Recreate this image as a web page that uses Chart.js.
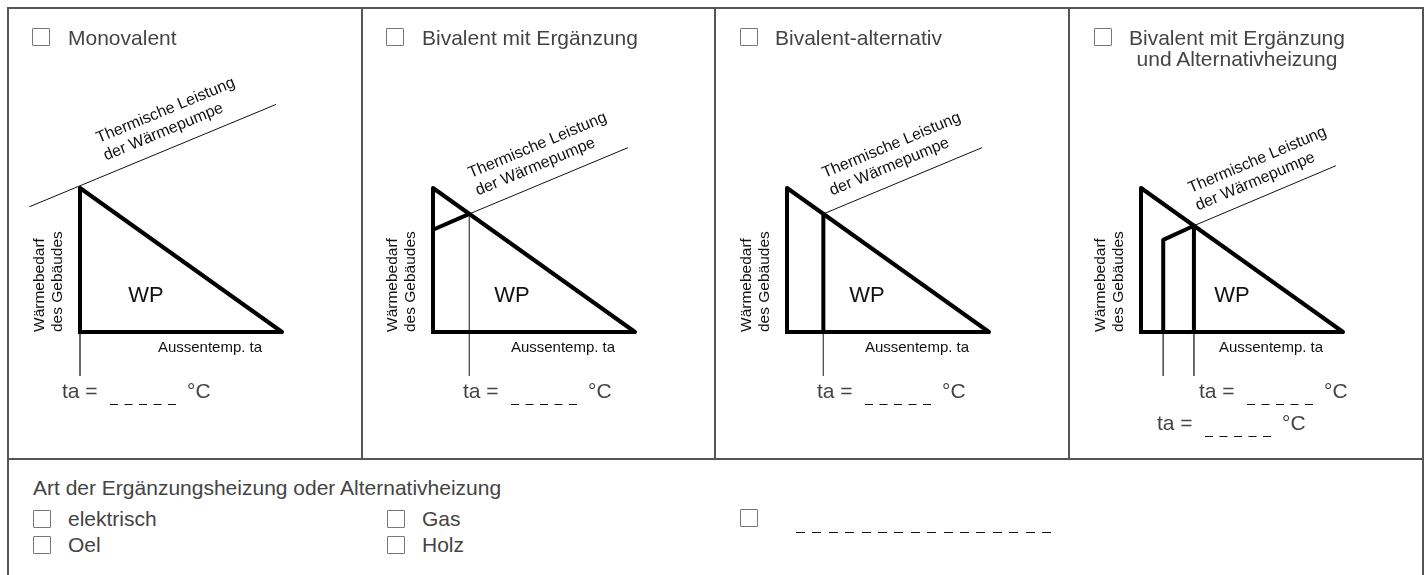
<!DOCTYPE html>
<html>
<head>
<meta charset="utf-8">
<script src="https://cdn.jsdelivr.net/npm/chart.js@4/dist/chart.umd.min.js"></script>
<style>
  body { margin: 0; width: 1428px; height: 575px; background: #fff; position: relative; overflow: hidden;
         font-family: "Liberation Sans", Arial, sans-serif; color: #444; }
  .frame { position: absolute; left: 7px; top: 7px; width: 1413px; height: 620px; border: 2px solid #555; }
  .vline { position: absolute; top: 8px; height: 451px; width: 2px; background: #555; }
  .hline { position: absolute; left: 8px; width: 1414px; top: 458px; height: 2px; background: #555; }
  .box { position: absolute; width: 16px; height: 16px; border: 1px solid #777; border-radius: 1px; background: #fff; }
  .lbl { position: absolute; font-size: 21px; line-height: 21px; white-space: nowrap; }
  .blank { position: absolute; height: 1px; background: repeating-linear-gradient(to right, #111 0 9px, transparent 9px 16.4px); }
  canvas { position: absolute; top: 10px; }
</style>
</head>
<body>
<div class="frame"></div>
<div class="vline" style="left:361px"></div>
<div class="vline" style="left:714px"></div>
<div class="vline" style="left:1068px"></div>
<div class="hline"></div>

<canvas id="p0" width="350" height="446" style="left:10px"></canvas>
<canvas id="p1" width="350" height="446" style="left:363px"></canvas>
<canvas id="p2" width="350" height="446" style="left:717px"></canvas>
<canvas id="p3" width="350" height="446" style="left:1071px"></canvas>

<div id="titles"></div>

<!-- Art der Zusatzheizung -->
<div class="lbl" style="left:33px;top:477px">Art der Ergänzungsheizung oder Alternativheizung</div>
<div class="box" style="left:33px;top:510px"></div><div class="lbl" style="left:68px;top:508px">elektrisch</div>
<div class="box" style="left:387px;top:510px"></div><div class="lbl" style="left:422px;top:508px">Gas</div>
<div class="box" style="left:740px;top:509px"></div><div class="blank" style="left:796px;top:532px;width:256px"></div>
<div class="box" style="left:33px;top:536px"></div><div class="lbl" style="left:68px;top:534px">Oel</div>
<div class="box" style="left:387px;top:536px"></div><div class="lbl" style="left:422px;top:534px">Holz</div>

<script>
// ============================================
// DATEN
// ============================================
const panelTitles = ['Monovalent', 'Bivalent mit Ergänzung', 'Bivalent-alternativ',
                     'Bivalent mit Ergänzung\nund Alternativheizung'];

// Wärmebedarf des Gebäudes (%) über der Aussentemperatur (% des Bereichs)
const demandTemp = [0, 0, 100, 0];
const demandLoad = [0, 100, 0, 0];

// Thermische Leistung der Wärmepumpe (dünne Linie)
const pumpTemp = [[-25, 97], [18, 96.5], [18, 96.5], [26.2, 96.5]];
const pumpLoad = [[87, 158], [82, 128], [82, 128], [73.8, 115.5]];

// fette Begrenzung des WP-Anteils
const boldTemp = [[], [0, 18], [18, 18], [11, 11, 26.2, 26.2]];
const boldLoad = [[], [71, 82], [82, 0], [0, 64, 73.8, 0]];

// Bivalenzpunkte: senkrechte Hilfslinien bis zur ta-Angabe
const dropTemp = [[0], [18], [18], [11, 26.2]];
const dropFrom = [[0], [82], [0], [0, 0]];
const dropTo = -30.5;

// ============================================
// LAYOUT (Pixel relativ zum Dreieck-Ursprung)
// ============================================
const originX = 70, originY = 322;      // Ursprung im Canvas
const pxPerTemp = 2.02, pxPerLoad = 1.44;
const titleX = [[32, 68], [386, 422], [740, 775], [1094, 1129]];
const wpX = [66, 79, 80, 91];
const pumpLabel = [[17, -193], [36, -158], [36, -158], [48, -143]];
const taRows = [[[-18, 66]], [[30, 66]], [[30, 66]], [[58, 66], [16, 98]]];

// Titel mit Kästchen
const titles = document.getElementById('titles');
panelTitles.forEach((t, i) => {
  const [bx, tx] = titleX[i];
  titles.insertAdjacentHTML('beforeend',
    `<div class="box" style="left:${bx}px;top:28px"></div>` +
    `<div class="lbl" style="left:${tx}px;top:27px;text-align:center">${t.replace('\n', '<br>')}</div>`);
});

// ============================================
// BESCHRIFTUNGEN
// ============================================
const panelLabels = {
  id: 'panelLabels',
  afterDatasetsDraw(chart, args, opts) {
    const i = opts.index;
    const { ctx, scales: { x, y } } = chart;
    const ox = x.getPixelForValue(0), oy = y.getPixelForValue(0);
    ctx.save();

    // Thermische Leistung der Wärmepumpe, entlang der Linie
    const p = pumpTemp[i], q = pumpLoad[i];
    const ang = Math.atan2(y.getPixelForValue(q[1]) - y.getPixelForValue(q[0]),
                           x.getPixelForValue(p[1]) - x.getPixelForValue(p[0]));
    ctx.translate(ox + pumpLabel[i][0], oy + pumpLabel[i][1]);
    ctx.rotate(ang);
    ctx.fillStyle = '#111';
    ctx.font = '16px "Liberation Sans", Arial, sans-serif';
    ctx.textAlign = 'left';
    ctx.textBaseline = 'middle';
    ctx.fillText('Thermische Leistung', 0, 0);
    ctx.fillText('der Wärmepumpe', 0, 19);
    ctx.setTransform(1, 0, 0, 1, 0, 0);

    // Achsenbeschriftung senkrecht
    ctx.translate(ox - 40, oy);
    ctx.rotate(-Math.PI / 2);
    ctx.font = '15.5px "Liberation Sans", Arial, sans-serif';
    ctx.fillText('Wärmebedarf', 0, 0);
    ctx.fillText('des Gebäudes', 0, 18);
    ctx.setTransform(1, 0, 0, 1, 0, 0);

    // Aussentemperatur
    ctx.textAlign = 'center';
    ctx.font = '15px "Liberation Sans", Arial, sans-serif';
    ctx.fillText('Aussentemp. ta', ox + 130, oy + 16);

    // WP
    ctx.font = '22px "Liberation Sans", Arial, sans-serif';
    ctx.fillText('WP', ox + wpX[i], oy - 36);

    // ta = _ _ _ _ _ °C
    ctx.textAlign = 'left';
    ctx.textBaseline = 'alphabetic';
    ctx.font = '21px "Liberation Sans", Arial, sans-serif';
    taRows[i].forEach(([dx, by]) => {
      ctx.fillStyle = '#444';
      ctx.fillText('ta =', ox + dx, oy + by);
      ctx.fillText('°C', ox + dx + 125, oy + by);
      ctx.strokeStyle = '#111';
      ctx.lineWidth = 1;
      ctx.setLineDash([8, 6.5]);
      ctx.beginPath();
      ctx.moveTo(ox + dx + 48, oy + by + 6.5);
      ctx.lineTo(ox + dx + 114, oy + by + 6.5);
      ctx.stroke();
      ctx.setLineDash([]);
    });
    ctx.restore();
  }
};

// ============================================
// DIAGRAMME
// ============================================
function pts(xs, ys) {
  return xs.map((v, k) => ({ x: v, y: ys[k] }));
}

function buildPanel(i) {
  const canvas = document.getElementById('p' + i);
  const w = canvas.width, h = canvas.height;
  const datasets = [
    { data: pts(demandTemp, demandLoad), borderColor: '#000', borderWidth: 4,
      borderCapStyle: 'square', borderJoinStyle: 'round', order: 0 },
    { data: pts(pumpTemp[i], pumpLoad[i]), borderColor: '#111', borderWidth: 1, order: 2 }
  ];
  if (boldTemp[i].length) {
    datasets.push({ data: pts(boldTemp[i], boldLoad[i]), borderColor: '#000', borderWidth: 4,
                    borderJoinStyle: 'round', order: 1 });
  }
  dropTemp[i].forEach((t, k) => {
    datasets.push({ data: [{ x: t, y: dropFrom[i][k] }, { x: t, y: dropTo }],
                    borderColor: '#555', borderWidth: 1, order: 3 });
  });

  new Chart(canvas, {
    type: 'line',
    data: { datasets },
    options: {
      responsive: false,
      animation: false,
      events: [],
      layout: { padding: 0 },
      elements: { point: { radius: 0 }, line: { tension: 0, fill: false } },
      datasets: { line: { clip: false } },
      scales: {
        x: { type: 'linear', display: false, min: -originX / pxPerTemp, max: (w - originX) / pxPerTemp },
        y: { type: 'linear', display: false, min: -(h - originY) / pxPerLoad, max: originY / pxPerLoad }
      },
      plugins: { legend: { display: false }, tooltip: { enabled: false }, panelLabels: { index: i } }
    },
    plugins: [panelLabels]
  });
}

panelTitles.forEach((t, i) => buildPanel(i));
</script>
</body>
</html>
